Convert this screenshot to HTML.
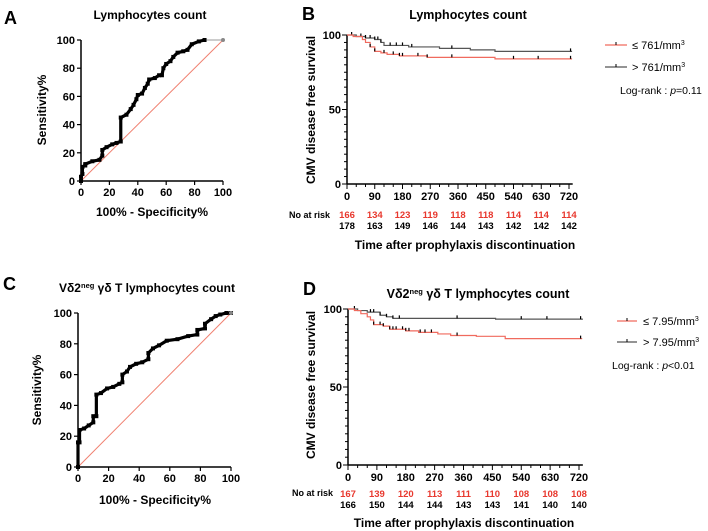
<!DOCTYPE html>
<html><head><meta charset="utf-8"><style>
body{margin:0;background:#fff;}
svg{display:block;font-family:"Liberation Sans",sans-serif;}
</style></head><body>
<svg id="fig" width="708" height="531" viewBox="0 0 708 531"></svg>
<script>
// ROC A data (fpr %, sensitivity %)
const rocAx=[0,0,1,1,3,3,8,13,15,15,18,22,25,28,28,32,35,37,39,40,43,45,47,48,52,55,57,58,60,63,65,68,72,75,78,83,87];
const rocAy=[0,3,5,10,11,12,14,15,18,22,24,26,27,28,45,47,51,54,58,61,62,66,69,72,73,75,75,80,83,85,88,91,92,93,97,99,100];
// ROC C data
const rocCx=[0,0,1,1,4,7,10,10,12,12,15,19,23,27,29,29,32,34,38,42,46,46,49,53,58,65,72,78,78,83,83,87,90,93,97,100];
const rocCy=[0,16,16,24,25,27,29,33,33,47,48,51,52,54,55,60,62,65,67,68,70,74,77,79,82,83,85,86,89,90,93,96,98,99,100,100];
const rocTicks=[0,20,40,60,80,100];
// KM B
const kmBlowT=[0,20,50,60,75,90,110,130,170,260,480,730];
const kmBlowS=[100,99,97,95,92,89,88,87,86,85,84,84];
const kmBhighT=[0,30,60,90,110,120,200,300,400,480,730];
const kmBhighS=[100,99,98,97,95,93,92,91,90,89,89];
const kmBlowCens=[75,90,120,150,170,180,230,260,340,540,620,725];
const kmBhighCens=[15,45,60,75,90,100,110,140,160,180,210,340,725];
const riskBlow=[166,134,123,119,118,118,114,114,114];
const riskBhigh=[178,163,149,146,144,143,142,142,142];
// KM D
const kmDlowT=[0,20,40,60,70,80,110,130,180,220,280,320,400,490,730];
const kmDlowS=[100,99,97,95,93,90,89,87,86,85,84,83,82.5,81,81];
const kmDhighT=[0,30,60,100,120,140,460,730];
const kmDhighS=[100,99,98,96,95,94,93.5,93];
const kmDlowCens=[80,100,110,130,140,150,170,180,190,225,240,260,340,725];
const kmDhighCens=[20,70,80,100,120,140,160,340,540,620,725];
const riskDlow=[167,139,120,113,111,110,108,108,108];
const riskDhigh=[166,150,144,144,143,143,141,140,140];
const kmTicks=[0,90,180,270,360,450,540,630,720];

const NS="http://www.w3.org/2000/svg";
const svg=document.getElementById('fig');
function el(tag,attrs,parent,text){const e=document.createElementNS(NS,tag);for(const k in attrs)e.setAttribute(k,attrs[k]);if(text!==undefined)e.textContent=text;(parent||svg).appendChild(e);return e;}
function txt(x,y,s,size,weight,anchor,fill,parent){return el('text',{x:x,y:y,'font-size':size,'font-weight':weight,'text-anchor':anchor,fill:fill||'#000'},parent,s);}

function roc(g,px0,px1,py0,py1,xs,ys){
  const X=v=>px0+(px1-px0)*v/100, Y=v=>py0-(py0-py1)*v/100;
  el('line',{x1:X(0),y1:Y(0),x2:X(100),y2:Y(100),stroke:'#f08070','stroke-width':1},g);
  el('line',{x1:X(0),y1:Y(0),x2:X(100),y2:Y(0),stroke:'#000','stroke-width':1.5},g);
  el('line',{x1:X(0),y1:Y(0),x2:X(0),y2:Y(100),stroke:'#000','stroke-width':1.5},g);
  rocTicks.forEach(t=>{
    el('line',{x1:X(t),y1:Y(0),x2:X(t),y2:Y(0)+4,stroke:'#000','stroke-width':1.2},g);
    el('line',{x1:X(0)-4,y1:Y(t),x2:X(0),y2:Y(t),stroke:'#000','stroke-width':1.2},g);
    const a=txt(X(t),Y(0)+15,t,11,'bold','middle','#000',g);
    
    const b=txt(X(0)-6,Y(t)+4,t,11,'bold','end','#000',g);
    
  });
  let pts=[];
  for(let i=0;i<xs.length;i++){pts.push(X(xs[i])+','+Y(ys[i]));}
  const last=xs.length-1;
  el('line',{x1:X(xs[last]),y1:Y(ys[last]),x2:X(100),y2:Y(100),stroke:'#999','stroke-width':1},g);
  const pl=el('polyline',{points:pts.join(' '),fill:'none',stroke:'#000','stroke-width':3.2},g);
  
  
  for(let i=0;i<xs.length;i++){
    const r=el('rect',{x:X(xs[i])-2,y:Y(ys[i])-2,width:4,height:4,fill:'#000'},g);
    
    
  }
  el('circle',{cx:X(100),cy:Y(100),r:2,fill:'#888'},g);
}

function km(g,px0,px1,py0,py1,series,riskLow,riskHigh,riskY){
  const X=v=>px0+(px1-px0)*v/720, Y=v=>py0-(py0-py1)*v/100;
  el('line',{x1:X(0),y1:Y(0),x2:X(732),y2:Y(0),stroke:'#000','stroke-width':1.5},g);
  el('line',{x1:X(0),y1:Y(0),x2:X(0),y2:Y(100),stroke:'#000','stroke-width':1.5},g);
  for(let t=0;t<=100;t+=5){const big=t%50===0;el('line',{x1:X(0)-(big?5:3),y1:Y(t),x2:X(0),y2:Y(t),stroke:'#000','stroke-width':1},g);
    if(big){const a=txt(X(0)-6,Y(t)+4,t,11,'bold','end','#000',g);}}
  for(let t=0;t<=720;t+=30){const big=t%90===0;el('line',{x1:X(t),y1:Y(0),x2:X(t),y2:Y(0)+(big?5:3),stroke:'#000','stroke-width':1},g);}
  kmTicks.forEach((t,i)=>{
    const a=txt(X(t),Y(0)+16,t,11,'bold','middle','#000',g);
    
    const b=txt(X(t),riskY,riskLow[i],9.5,'bold','middle','#e8382e',g);
    
    const c=txt(X(t),riskY+11,riskHigh[i],9.5,'bold','middle','#000',g);
    
  });
  series.forEach(s=>{
    let d='M'+X(s.t[0])+','+Y(s.s[0]);
    for(let i=1;i<s.t.length;i++){d+=' H'+X(s.t[i])+' V'+Y(s.s[i]);}
    const p=el('path',{d:d,fill:'none',stroke:s.c,'stroke-width':1.2},g);
    
    
    s.cens.forEach(c=>{
      let v=s.s[0];for(let i=0;i<s.t.length;i++){if(s.t[i]<=c)v=s.s[i];}
      const m=el('line',{x1:X(c),y1:Y(v)-3,x2:X(c),y2:Y(v),stroke:'#000','stroke-width':1.2},g);
      
      
    });
  });
}

// Panel A
let gA=el('g',{});
txt(4,24,'A',18,'bold','start','#000',gA);
txt(150,19,'Lymphocytes count',12,'bold','middle','#000',gA);
roc(gA,81,223,181,40,rocAx,rocAy);
txt(152,216,'100% - Specificity%',12,'bold','middle','#000',gA);
el('text',{x:0,y:0,'font-size':12,'font-weight':'bold','text-anchor':'middle',transform:'translate(46,110) rotate(-90)'},gA,'Sensitivity%');

// Panel C
let gC=el('g',{});
txt(3,290,'C',18,'bold','start','#000',gC);
const tc=el('text',{x:147,y:292,'font-size':12,'font-weight':'bold','text-anchor':'middle'},gC);
tc.innerHTML='Vδ2<tspan font-size="7.5" dy="-4">neg</tspan><tspan dy="4"> γδ T lymphocytes count</tspan>';
roc(gC,78,231,467,313,rocCx,rocCy);
txt(155,504,'100% - Specificity%',12,'bold','middle','#000',gC);
el('text',{x:0,y:0,'font-size':12,'font-weight':'bold','text-anchor':'middle',transform:'translate(41,390) rotate(-90)'},gC,'Sensitivity%');

// Panel B
let gB=el('g',{});
txt(302,20,'B',18,'bold','start','#000',gB);
txt(468,19,'Lymphocytes count',12.5,'bold','middle','#000',gB);
km(gB,347,569,184,35,[
 {t:kmBhighT,s:kmBhighS,cens:kmBhighCens,c:'#555',name:'survival-high'},
 {t:kmBlowT,s:kmBlowS,cens:kmBlowCens,c:'#f06a5e',name:'survival-low'}],riskBlow,riskBhigh,218);
txt(330,218,'No at risk',9,'bold','end','#000',gB);
txt(465,249,'Time after prophylaxis discontinuation',12,'bold','middle','#000',gB);
el('text',{x:0,y:0,'font-size':12,'font-weight':'bold','text-anchor':'middle',transform:'translate(315,110) rotate(-90)'},gB,'CMV disease free survival');
el('line',{x1:605,y1:45,x2:627,y2:45,stroke:'#f06a5e','stroke-width':1.2},gB);el('line',{x1:616,y1:42,x2:616,y2:45,stroke:'#000'},gB);
el('line',{x1:605,y1:67,x2:627,y2:67,stroke:'#555','stroke-width':1.2},gB);el('line',{x1:616,y1:64,x2:616,y2:67,stroke:'#000'},gB);
el('text',{x:632,y:49,'font-size':11},gB).innerHTML='≤ 761/mm<tspan font-size="7" dy="-4">3</tspan>';
el('text',{x:632,y:71,'font-size':11},gB).innerHTML='&gt; 761/mm<tspan font-size="7" dy="-4">3</tspan>';
el('text',{x:620,y:94,'font-size':10.5},gB).innerHTML='Log-rank : <tspan font-style="italic">p</tspan>=0.11';

// Panel D
let gD=el('g',{});
txt(303,295,'D',18,'bold','start','#000',gD);
const td=el('text',{x:478,y:298,'font-size':12.5,'font-weight':'bold','text-anchor':'middle'},gD);
td.innerHTML='Vδ2<tspan font-size="7.5" dy="-4">neg</tspan><tspan dy="4"> γδ T lymphocytes count</tspan>';
km(gD,348,579,465,309,[
 {t:kmDhighT,s:kmDhighS,cens:kmDhighCens,c:'#555',name:'survival-high'},
 {t:kmDlowT,s:kmDlowS,cens:kmDlowCens,c:'#f06a5e',name:'survival-low'}],riskDlow,riskDhigh,497);
txt(333,496,'No at risk',9,'bold','end','#000',gD);
txt(464,527,'Time after prophylaxis discontinuation',12,'bold','middle','#000',gD);
el('text',{x:0,y:0,'font-size':12,'font-weight':'bold','text-anchor':'middle',transform:'translate(315,385) rotate(-90)'},gD,'CMV disease free survival');
el('line',{x1:617,y1:321,x2:637,y2:321,stroke:'#f06a5e','stroke-width':1.2},gD);el('line',{x1:627,y1:318,x2:627,y2:321,stroke:'#000'},gD);
el('line',{x1:617,y1:342,x2:637,y2:342,stroke:'#555','stroke-width':1.2},gD);el('line',{x1:627,y1:339,x2:627,y2:342,stroke:'#000'},gD);
el('text',{x:643,y:325,'font-size':11},gD).innerHTML='≤ 7.95/mm<tspan font-size="7" dy="-4">3</tspan>';
el('text',{x:643,y:346,'font-size':11},gD).innerHTML='&gt; 7.95/mm<tspan font-size="7" dy="-4">3</tspan>';
el('text',{x:612,y:369,'font-size':10.5},gD).innerHTML='Log-rank : <tspan font-style="italic">p</tspan>&lt;0.01';
</script>
</body></html>
